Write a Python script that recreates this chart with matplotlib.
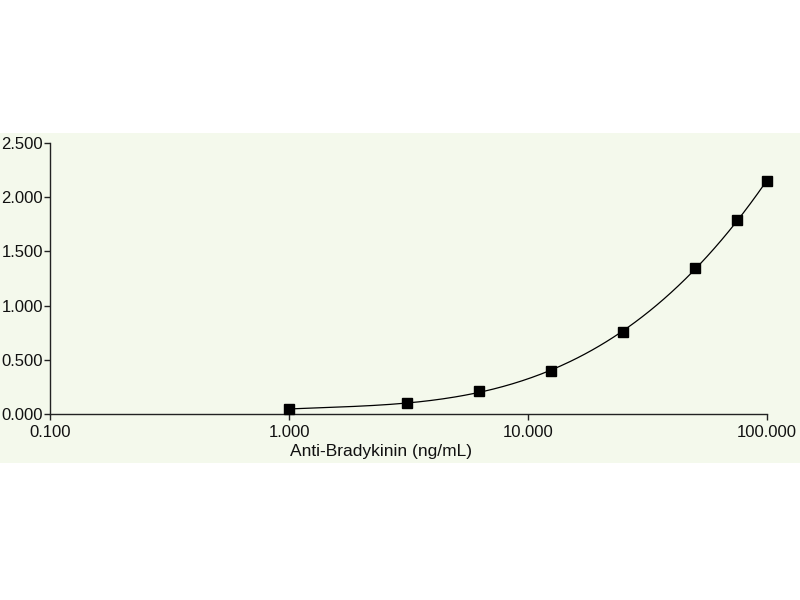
import numpy as np
import matplotlib
matplotlib.use('Agg')
import matplotlib.pyplot as plt
from matplotlib.patches import Rectangle
from matplotlib.ticker import FixedLocator, FormatStrFormatter, NullLocator

plt.rcParams['font.family'] = ['Liberation Sans', 'DejaVu Sans']

# standard curve points
conc = [1.0, 3.125, 6.25, 12.5, 25.0, 50.0, 75.0, 100.0]
od = [0.046, 0.10, 0.21, 0.40, 0.757, 1.35, 1.79, 2.15]
xticks = [0.1, 1, 10, 100]
yticks = [0.0, 0.5, 1.0, 1.5, 2.0, 2.5]

bg = '#f4f9ec'

fig = plt.figure(figsize=(8, 6), dpi=100)
fig.patch.set_facecolor('white')
# green panel behind the chart
fig.add_artist(Rectangle((0, 0.228), 1, 0.55, transform=fig.transFigure,
                         facecolor=bg, edgecolor='none', zorder=-10))

ax = fig.add_axes([0.0625, 0.31, 0.8965, 0.4517])
ax.set_facecolor(bg)

# smooth fit through the points (cubic in log conc)
coef = np.polyfit(np.log10(conc), od, 3)
xs = np.logspace(0, 2, 200)
ax.plot(xs, np.polyval(coef, np.log10(xs)), color='black', lw=0.9, zorder=2)
ax.plot(conc, od, 's', color='black', markersize=6.5, zorder=3, clip_on=False)

ax.set_xscale('log')
ax.set_xlim(0.1, 100)
ax.set_ylim(0, 2.5)
ax.xaxis.set_major_locator(FixedLocator(xticks))
ax.xaxis.set_minor_locator(NullLocator())
ax.yaxis.set_major_locator(FixedLocator(yticks))
ax.xaxis.set_major_formatter(FormatStrFormatter('%.3f'))
ax.yaxis.set_major_formatter(FormatStrFormatter('%.3f'))

for s in ['top', 'right']:
    ax.spines[s].set_visible(False)
for s in ['left', 'bottom']:
    ax.spines[s].set_linewidth(1.0)
    ax.spines[s].set_color('#222222')

ax.tick_params(axis='both', direction='out', length=4, width=1.0,
               labelsize=12, color='#222222', labelcolor='#111111', pad=1)
ax.tick_params(axis='x', pad=4)

ax.set_xlabel('Anti-Bradykinin (ng/mL)', fontsize=12.5, color='#111111')
ax.xaxis.set_label_coords(0.462, -0.11)

fig.savefig('out.png', dpi=100, facecolor=fig.get_facecolor())
